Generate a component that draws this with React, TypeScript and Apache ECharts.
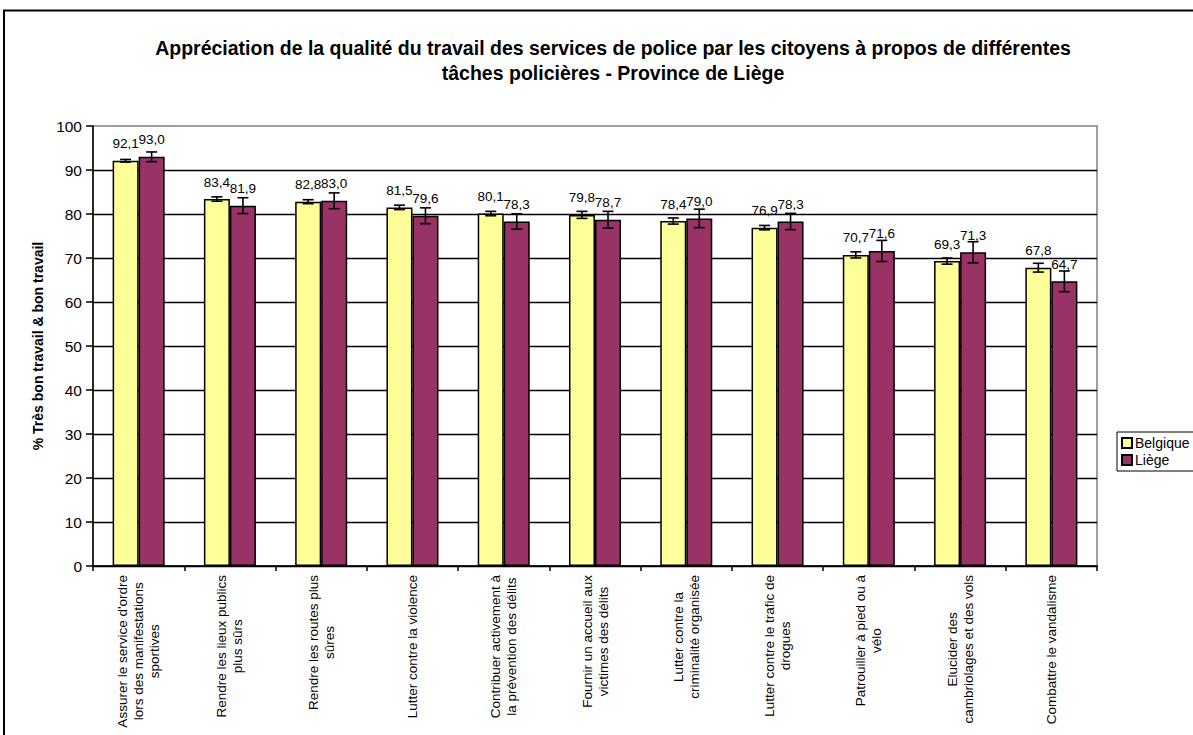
import React, { useEffect, useRef } from "react";
import * as echarts from "echarts";

const categories: string[][] = [
  ["Assurer le service d'ordre", "lors des manifestations", "sportives"],
  ["Rendre les lieux publics", "plus sûrs"],
  ["Rendre les routes plus", "sûres"],
  ["Lutter contre la violence"],
  ["Contribuer activement à", "la prévention des délits"],
  ["Fournir un accueil aux", "victimes des délits"],
  ["Lutter contre la", "criminalité organisée"],
  ["Lutter contre le trafic de", "drogues"],
  ["Patrouiller à pied ou à", "vélo"],
  ["Elucider des", "cambriolages et des vols"],
  ["Combattre le vandalisme"],
];

const belgique: number[] = [92.1, 83.4, 82.8, 81.5, 80.1, 79.8, 78.4, 76.9, 70.7, 69.3, 67.8];
const liege: number[] = [93.0, 81.9, 83.0, 79.6, 78.3, 78.7, 79.0, 78.3, 71.6, 71.3, 64.7];
const belgiqueErr: number[] = [0.3, 0.5, 0.45, 0.5, 0.5, 0.8, 0.7, 0.5, 0.7, 0.7, 1.0];
const liegeErr: number[] = [1.1, 1.8, 1.8, 1.8, 1.75, 1.9, 2.1, 1.85, 2.4, 2.4, 2.35];

const seriesNames = ["Belgique", "Liège"];
const yTicks = { min: 0, max: 100, interval: 10 };

const FONT = "'Liberation Sans', Arial, sans-serif";
const CAT_GAP = 0.43;

function errData(vals: number[], errs: number[]) {
  return vals.map((v, i) => [i, v - errs[i], v + errs[i]]);
}

function makeErrSeries(name: string, vals: number[], errs: number[], side: number) {
  return {
    type: "custom",
    name: name + "-err",
    z: 10,
    silent: true,
    encode: { x: 0, y: [1, 2] },
    data: errData(vals, errs),
    renderItem: (params: any, api: any) => {
      const idx = api.value(0);
      const lo = api.coord([idx, api.value(1)]);
      const hi = api.coord([idx, api.value(2)]);
      const catW = api.size([1, 0])[0];
      const barW = (catW * (1 - CAT_GAP)) / 2;
      const cx = lo[0] + (side * barW) / 2;
      const half = 5.5;
      const st = { stroke: "#000", lineWidth: 1.6 };
      return {
        type: "group",
        children: [
          { type: "line", shape: { x1: cx, y1: hi[1], x2: cx, y2: lo[1] }, style: st },
          { type: "line", shape: { x1: cx - half, y1: hi[1], x2: cx + half, y2: hi[1] }, style: st },
          { type: "line", shape: { x1: cx - half, y1: lo[1], x2: cx + half, y2: lo[1] }, style: st },
        ],
      };
    },
  };
}

const fmt = (p: any) => Number(p.value).toFixed(1).replace(".", ",");

export default function App() {
  const ref = useRef<HTMLDivElement>(null);
  useEffect(() => {
    if (!ref.current) return;
    const chart = echarts.init(ref.current, null, { renderer: "svg" });
    const option: any = {
      animation: false,
      backgroundColor: "#fff",
      textStyle: { fontFamily: FONT },
      title: {
        text:
          "Appréciation de la qualité du travail des services de police par les citoyens à propos de différentes\ntâches policières - Province de Liège",
        left: 608,
        top: 30,
        textAlign: "center",
        textStyle: { fontFamily: FONT, fontSize: 19.5, fontWeight: "bold", color: "#000", lineHeight: 25 },
      },
      legend: {
        data: seriesNames,
        orient: "vertical",
        left: 1117,
        top: 432,
        itemWidth: 10,
        itemHeight: 10,
        itemGap: 3,
        icon: "rect",
        padding: [4, 5, 4, 4],
        borderColor: "#000",
        borderWidth: 1,
        backgroundColor: "#fff",
        textStyle: { fontFamily: FONT, fontSize: 14, color: "#000", padding: [0, 0, 0, -2] },
      },
      grid: {
        left: 93,
        right: 96,
        top: 126,
        bottom: 169,
        show: true,
        borderColor: "#808080",
        borderWidth: 1.5,
        backgroundColor: "#fff",
      },
      xAxis: {
        type: "category",
        data: categories.map((c) => c.join("\n")),
        axisLine: { lineStyle: { color: "#000", width: 1.5 } },
        axisTick: { show: true, length: 5, interval: 0, lineStyle: { color: "#000", width: 1.5 } },
        axisLabel: {
          interval: 0,
          rotate: 90,
          margin: 9,
          color: "#000",
          fontFamily: FONT,
          fontSize: 13.5,
          formatter: (v: string) =>
            v
              .split("\n")
              .map((l) => "{c|" + l + "}")
              .join("\n"),
          rich: { c: { align: "center", fontFamily: FONT, fontSize: 13.5, lineHeight: 16, color: "#000" } },
        },
      },
      yAxis: {
        type: "value",
        min: yTicks.min,
        max: yTicks.max,
        interval: yTicks.interval,
        name: "% Très bon travail & bon travail",
        nameLocation: "middle",
        nameGap: 45,
        nameTextStyle: { fontFamily: FONT, fontSize: 14, fontWeight: "bold", color: "#000" },
        axisLine: { show: true, lineStyle: { color: "#000", width: 1.5 } },
        axisTick: { show: true, length: 7, lineStyle: { color: "#000", width: 1.5 } },
        axisLabel: { margin: 11, color: "#000", fontFamily: FONT, fontSize: 15.5 },
        splitLine: { show: true, showMaxLine: false, lineStyle: { color: "#000", width: 1.3 } },
      },
      series: [
        {
          type: "bar",
          name: seriesNames[0],
          data: belgique,
          barGap: "0%",
          barCategoryGap: CAT_GAP * 100 + "%",
          itemStyle: { color: "#FFFF99", borderColor: "#000", borderWidth: 1.5 },
          label: { show: true, position: "top", distance: 10, formatter: fmt, color: "#000", fontFamily: FONT, fontSize: 13.5 },
        },
        {
          type: "bar",
          name: seriesNames[1],
          data: liege,
          barGap: "0%",
          barCategoryGap: CAT_GAP * 100 + "%",
          itemStyle: { color: "#993366", borderColor: "#000", borderWidth: 1.5 },
          label: { show: true, position: "top", distance: 10, formatter: fmt, color: "#000", fontFamily: FONT, fontSize: 13.5 },
        },
        makeErrSeries(seriesNames[0], belgique, belgiqueErr, -1),
        makeErrSeries(seriesNames[1], liege, liegeErr, 1),
      ],
      graphic: [
        {
          type: "rect",
          z: 100,
          silent: true,
          shape: { x: 4, y: 10.5, width: 1210, height: 750 },
          style: { fill: "none", stroke: "#000", lineWidth: 2 },
        },
      ],
    };
    chart.setOption(option);
    return () => chart.dispose();
  }, []);
  return (
    <div
      ref={ref}
      style={{ position: "absolute", left: 0, top: 0, width: 1193, height: 735 }}
    />
  );
}
